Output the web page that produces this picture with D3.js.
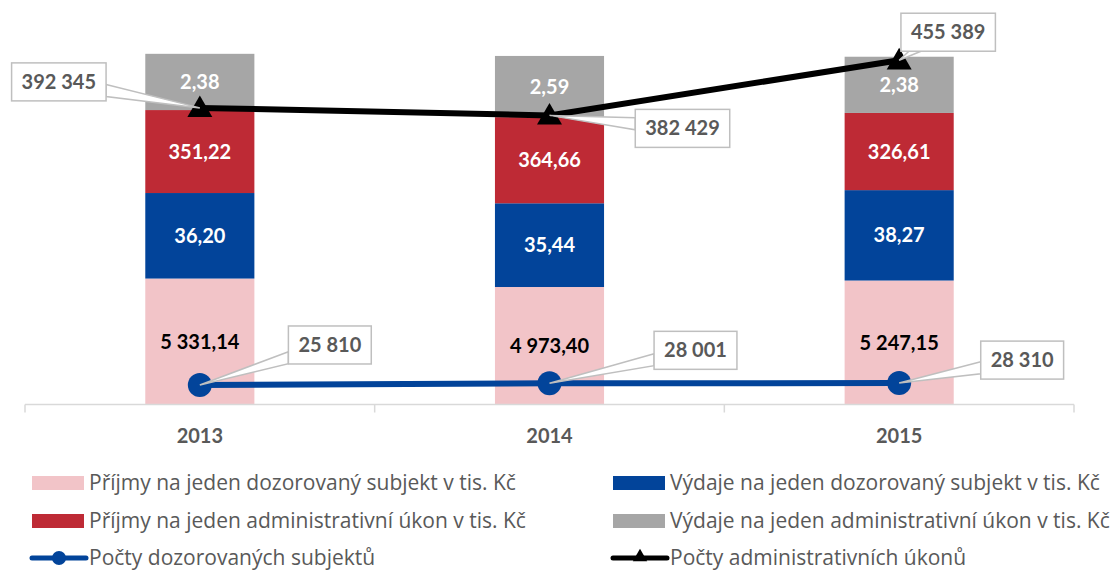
<!DOCTYPE html>
<html>
<head>
<meta charset="utf-8">
<script src="https://cdn.jsdelivr.net/npm/d3@7"></script>
<style>
  body { margin: 0; background: #fff; }
  svg { display: block; font-family: Lato, "Open Sans", sans-serif; }
</style>
</head>
<body>
<svg id="chart" width="1116" height="572"></svg>
<script>
// data
var years = ["2013", "2014", "2015"];
var prijmySubjekt = [5331.14, 4973.40, 5247.15];   // pink
var vydajeSubjekt = [36.20, 35.44, 38.27];         // blue
var prijmyUkon = [351.22, 364.66, 326.61];         // red
var vydajeUkon = [2.38, 2.59, 2.38];               // grey
var poctySubjektu = [25810, 28001, 28310];
var poctyUkonu = [392345, 382429, 455389];

// the original stacks each series with its own unit factor
var barSeries = [
  { name: "Příjmy na jeden dozorovaný subjekt v tis. Kč", values: prijmySubjekt, factor: 0.01, color: "#F2C4C8", text: "#000" },
  { name: "Výdaje na jeden dozorovaný subjekt v tis. Kč", values: vydajeSubjekt, factor: 1, color: "#02449A", text: "#fff" },
  { name: "Příjmy na jeden administrativní úkon v tis. Kč", values: prijmyUkon, factor: 0.1, color: "#BE2A35", text: "#fff" },
  { name: "Výdaje na jeden administrativní úkon v tis. Kč", values: vydajeUkon, factor: 10, color: "#A6A6A6", text: "#fff" }
];

var cz = d3.formatLocale({ decimal: ",", thousands: " ", grouping: [3], currency: ["", " Kč"] });
var fmt2 = cz.format(",.2f");
var fmtInt = cz.format(",d");

var svg = d3.select("#chart");
var gray = "#595959";

var x = d3.scaleBand().domain(years).range([25, 1074]).paddingInner(0.688).paddingOuter(0.344);
var y = d3.scaleLinear().domain([0, 160]).range([404.5, 26.5]);
var y2 = d3.scaleLinear().domain([0, 500000]).range([404.5, 26.5]);

// stacked bars
var rows = years.map(function(yr, i) {
  var r = { year: yr };
  barSeries.forEach(function(s, k) { r["s" + k] = s.values[i] * s.factor; });
  return r;
});
var stack = d3.stack().keys(barSeries.map(function(s, k) { return "s" + k; }));
var layers = stack(rows);

var gBars = svg.append("g");
layers.forEach(function(layer, k) {
  var s = barSeries[k];
  gBars.selectAll(null)
    .data(layer)
    .enter().append("rect")
    .attr("x", function(d) { return x(d.data.year); })
    .attr("width", x.bandwidth())
    .attr("y", function(d) { return y(d[1]); })
    .attr("height", function(d) { return y(d[0]) - y(d[1]); })
    .attr("fill", s.color);
  gBars.selectAll(null)
    .data(layer)
    .enter().append("text")
    .attr("x", function(d) { return x(d.data.year) + x.bandwidth() / 2; })
    .attr("y", function(d) { return (y(d[0]) + y(d[1])) / 2; })
    .attr("dy", "0.35em")
    .attr("text-anchor", "middle")
    .attr("font-size", 20)
    .attr("font-weight", "bold")
    .attr("fill", s.text)
    .text(function(d, i) { return fmt2(s.values[i]); });
});

// x axis with ticks between categories
var axisY = 404.5;
svg.append("line")
  .attr("x1", 25).attr("x2", 1074)
  .attr("y1", axisY).attr("y2", axisY)
  .attr("stroke", "#D9D9D9").attr("stroke-width", 1.5);
var step = x.step();
var bounds = years.map(function(yr) { return x(yr) - step * x.paddingInner() / 2; });
bounds.push(x(years[years.length - 1]) + x.bandwidth() + step * x.paddingInner() / 2);
svg.selectAll(null).data(bounds).enter().append("line")
  .attr("x1", function(d) { return d; }).attr("x2", function(d) { return d; })
  .attr("y1", axisY).attr("y2", axisY + 8)
  .attr("stroke", "#D9D9D9").attr("stroke-width", 1.5);
svg.selectAll(null).data(years).enter().append("text")
  .attr("x", function(d) { return x(d) + x.bandwidth() / 2; })
  .attr("y", 436)
  .attr("dy", "0.35em")
  .attr("text-anchor", "middle")
  .attr("font-size", 20)
  .attr("font-weight", "bold")
  .attr("fill", gray)
  .text(function(d) { return d; });

// lines on secondary axis
var cx = function(d, i) { return x(years[i]) + x.bandwidth() / 2; };
var line = d3.line().x(function(d, i) { return cx(d, i); }).y(function(d) { return y2(d); });

svg.append("path").datum(poctySubjektu)
  .attr("d", line).attr("fill", "none")
  .attr("stroke", "#02449A").attr("stroke-width", 6);
svg.append("path").datum(poctyUkonu)
  .attr("d", line).attr("fill", "none")
  .attr("stroke", "#000").attr("stroke-width", 6);

svg.selectAll(null).data(poctySubjektu).enter().append("circle")
  .attr("cx", cx).attr("cy", function(d) { return y2(d); })
  .attr("r", 12).attr("fill", "#02449A");
var tri = d3.symbol().type(d3.symbolTriangle).size(270);
svg.selectAll(null).data(poctyUkonu).enter().append("path")
  .attr("d", tri)
  .attr("transform", function(d, i) { return "translate(" + cx(d, i) + "," + (y2(d) + 2) + ")"; })
  .attr("fill", "#000");

// callouts, offset of box centre from the marker
var ukonOffsets = [[-141, -26], [133, 13], [49, -28]];
var subjOffsets = [[130, -40], [146, -33], [123, -23]];

function callout(px, py, off, label) {
  var g = svg.append("g");
  var t = g.append("text")
    .attr("font-size", 20).attr("font-weight", "bold").attr("fill", gray)
    .attr("text-anchor", "middle").attr("dy", "0.35em")
    .attr("x", px + off[0]).attr("y", py + off[1])
    .text(label);
  var w = t.node().getComputedTextLength() + 20, h = 38;
  var bx = px + off[0] - w / 2, by = py + off[1] - h / 2;
  // point where the line from box centre to marker leaves the box
  var dx = px - (bx + w / 2), dy = py - (by + h / 2);
  var sx = Math.abs(dx) > 0 ? (w / 2) / Math.abs(dx) : Infinity;
  var sy = Math.abs(dy) > 0 ? (h / 2) / Math.abs(dy) : Infinity;
  var sc = Math.min(sx, sy);
  var ex = bx + w / 2 + dx * sc, ey = by + h / 2 + dy * sc;
  var pts;
  if (sx < sy) {
    var yy = Math.max(by + 6, Math.min(by + h - 6, ey));
    pts = [[ex, yy - 6], [px, py], [ex, yy + 6]];
  } else {
    var xx = Math.max(bx + 6, Math.min(bx + w - 6, ex));
    pts = [[xx - 6, ey], [px, py], [xx + 6, ey]];
  }
  g.insert("path", "text")
    .attr("d", d3.line()(pts) + "Z")
    .attr("fill", "#fff").attr("stroke", "#BFBFBF").attr("stroke-width", 1.5);
  g.insert("rect", "text")
    .attr("x", bx).attr("y", by).attr("width", w).attr("height", h)
    .attr("fill", "#fff").attr("stroke", "#BFBFBF").attr("stroke-width", 1.5);
}

poctyUkonu.forEach(function(v, i) { callout(cx(v, i), y2(v), ukonOffsets[i], fmtInt(v)); });
poctySubjektu.forEach(function(v, i) { callout(cx(v, i), y2(v), subjOffsets[i], fmtInt(v)); });

// legend
var legendItems = [
  { name: barSeries[0].name, color: barSeries[0].color, type: "rect", col: 0, row: 0 },
  { name: barSeries[1].name, color: barSeries[1].color, type: "rect", col: 1, row: 0 },
  { name: barSeries[2].name, color: barSeries[2].color, type: "rect", col: 0, row: 1 },
  { name: barSeries[3].name, color: barSeries[3].color, type: "rect", col: 1, row: 1 },
  { name: "Počty dozorovaných subjektů", color: "#02449A", type: "circle", col: 0, row: 2 },
  { name: "Počty administrativních úkonů", color: "#000", type: "triangle", col: 1, row: 2 }
];
var colX = [32, 613];
var rowY = [483, 521, 558];

legendItems.forEach(function(it) {
  var lx = colX[it.col], ly = rowY[it.row];
  var g = svg.append("g").attr("transform", "translate(" + lx + "," + ly + ")");
  if (it.type === "rect") {
    g.append("rect").attr("x", 0).attr("y", -7).attr("width", 52).attr("height", 14).attr("fill", it.color);
  } else {
    g.append("line").attr("x1", 0).attr("x2", 54).attr("y1", 0).attr("y2", 0)
      .attr("stroke", it.color).attr("stroke-width", 5).attr("stroke-linecap", "round");
    if (it.type === "circle") {
      g.append("circle").attr("cx", 27).attr("cy", 0).attr("r", 7).attr("fill", it.color);
    } else {
      g.append("path").attr("d", d3.symbol().type(d3.symbolTriangle).size(90))
        .attr("transform", "translate(27,-1)").attr("fill", it.color);
    }
  }
  g.append("text")
    .attr("x", 57).attr("y", 0).attr("dy", "0.35em")
    .attr("font-family", "'Open Sans', sans-serif")
    .attr("font-size", 21).attr("fill", gray)
    .text(it.name);
});
</script>
</body>
</html>
